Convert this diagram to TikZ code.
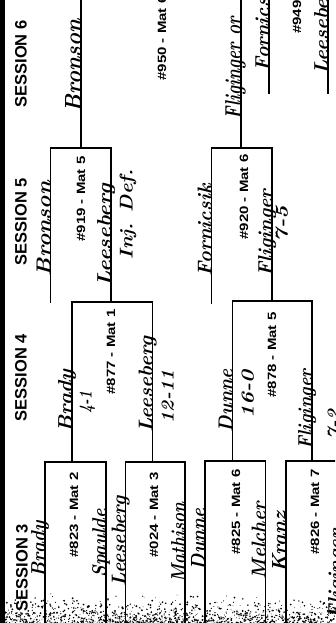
\documentclass[tikz,border=0pt]{standalone}
\usepackage{fontspec}
\usepackage{graphicx}
\newfontfamily\sansb{Liberation Sans}
\newcommand\hw[3][14]{\resizebox{#2pt}{#1pt}{\bfseries\itshape #3}}
\begin{document}
\begin{tikzpicture}[x=1pt,y=-1pt,
  br/.style={line width=1.1pt, line cap=rect},
  sess/.style={rotate=90, font=\sansb\bfseries\fontsize{16.5}{16.5}\selectfont, inner sep=0pt},
  mat/.style={rotate=90, font=\sansb\bfseries\fontsize{12}{12}\selectfont, inner sep=0pt},
  hand/.style={rotate=90, inner sep=0.5pt, anchor=base west},
  score/.style={rotate=90, inner sep=0.5pt, anchor=north west}]
\useasboundingbox (0,0) rectangle (335,623);
\clip (0,0) rectangle (335,623);
\fill[white] (0,0) rectangle (335,623);
% scan border
\fill[black] (0,0) rectangle (4.5,623);
% bottom speckle
\pgfmathsetseed{7}
\foreach \i in {1,...,1100}{
  \pgfmathsetmacro\rx{rnd*335}
  \pgfmathsetmacro\ry{623-30*rnd*rnd}
  \pgfmathsetmacro\rr{0.35+0.7*rnd}
  \fill[black] (\rx,\ry) circle (\rr);
}
% ---------- bracket coordinates ----------
% session 3
\coordinate (a1) at (45,462);   \coordinate (a2) at (106,462);
\coordinate (b1) at (125.7,462);\coordinate (b2) at (185,462);
\coordinate (c1) at (205,461);  \coordinate (c2) at (265.7,461);
\coordinate (d1) at (286,461);  \coordinate (d2) at (346,461);
\coordinate (a1b) at (45,623);  \coordinate (a2b) at (106,623);
\coordinate (b1b) at (125.7,623);\coordinate (b2b) at (185,623);
\coordinate (c1b) at (205,623); \coordinate (c2b) at (265.7,623);
\coordinate (d1b) at (286,623); \coordinate (d2b) at (346,623);
\coordinate (am) at (72,462);   \coordinate (bm) at (152.5,462);
\coordinate (cm) at (232.5,461);\coordinate (dm) at (312,461);
% session 4
\coordinate (e1) at (72,302);   \coordinate (e2) at (152.5,302);
\coordinate (f1) at (232.5,301);\coordinate (f2) at (312,301);
\coordinate (em) at (111,302);  \coordinate (fm) at (272,301);
% session 5
\coordinate (g1) at (50.7,148); \coordinate (g2) at (111,148);
\coordinate (h1) at (211.7,148);\coordinate (h2) at (272,148);
\coordinate (g1b) at (50.7,302);\coordinate (h1b) at (211.7,303);
\coordinate (gm) at (81,148);   \coordinate (hm) at (241,148);
\coordinate (gt) at (81,-5);    \coordinate (ht) at (241,-5);
% consolation #949
\coordinate (k1t) at (269,-5);  \coordinate (k1b) at (269,93);
\coordinate (k2t) at (328,-5);  \coordinate (k2b) at (328,93);
% ---------- bracket lines ----------
\draw[br] (a1b) -- (a1) -- (a2) -- (a2b);
\draw[br] (b1b) -- (b1) -- (b2) -- (b2b);
\draw[br] (c1b) -- (c1) -- (c2) -- (c2b);
\draw[br] (d1b) -- (d1) -- (d2) -- (d2b);
\draw[br] (am) -- (e1);  \draw[br] (bm) -- (e2);
\draw[br] (cm) -- (f1);  \draw[br] (dm) -- (f2);
\draw[br] (e1) -- (e2);  \draw[br] (f1) -- (f2);
\draw[br] (em) -- (g2);  \draw[br] (fm) -- (h2);
\draw[br] (g1b) -- (g1) -- (g2);
\draw[br] (h1b) -- (h1) -- (h2);
\draw[br] (gm) -- (gt);  \draw[br] (hm) -- (ht);
\draw[br] (k1t) -- (k1b);\draw[br] (k2t) -- (k2b);
% ---------- session headings ----------
\node[sess] (s6) at (21,64) {SESSION 6};
\node[sess] (s5) at (21,221.5) {SESSION 5};
\node[sess] (s4) at (21,377.5) {SESSION 4};
\node[sess] (s3) at (22,567.5) {SESSION 3};
% ---------- match labels ----------
\node[mat] (m823) at (74,515) {\scalebox{1.25}[1]{\#823 - Mat 2}};
\node[mat] (m824) at (154,515) {\scalebox{1.25}[1]{\#024 - Mat 3}};
\node[mat] (m825) at (236,512) {\scalebox{1.25}[1]{\#825 - Mat 6}};
\node[mat] (m826) at (315,512) {\scalebox{1.25}[1]{\#826 - Mat 7}};
\node[mat] (m877) at (111,352) {\scalebox{1.25}[1]{\#877 - Mat 1}};
\node[mat] (m878) at (272,355) {\scalebox{1.25}[1]{\#878 - Mat 5}};
\node[mat] (m919) at (81,199) {\scalebox{1.25}[1]{\#919 - Mat 5}};
\node[mat] (m920) at (244,197) {\scalebox{1.25}[1]{\#920 - Mat 6}};
\node[mat] (m950) at (162,38) {\scalebox{1.25}[1]{\#950 - Mat 6}};
\node[mat, anchor=west] (m949) at (297,34) {\scalebox{1.25}[1]{\#949}};
% ---------- handwriting: session 3 ----------
\node[hand] (n1) at (45,578) {\hw{56}{Brady}};
\node[hand] (n2) at (106,578) {\hw{68}{Spaulde}};
\node[hand] (n3) at (125.7,587) {\hw{90}{Leeseberg}};
\node[hand] (n4) at (185,583) {\hw{80}{Mathison}};
\node[hand] (n5) at (205,571) {\hw{62}{Dunne}};
\node[hand] (n6) at (265.7,580) {\hw{77}{Melcher}};
\node[hand] (n7) at (286,573) {\hw{61}{Kranz}};
\node[hand] (n8) at (342,620) {\hw{90}{Fliginger}};
% ---------- handwriting: session 4 ----------
\node[hand] (n9) at (72,433) {\hw{63}{Brady}};
\node[score] (r9) at (79,414) {\hw[12]{22}{4-1}};
\node[hand] (n10) at (152.5,433) {\hw{96}{Leeseberg}};
\node[score] (r10) at (161,424) {\hw[12]{53}{12-11}};
\node[hand] (n11) at (232.5,433) {\hw{63}{Dunne}};
\node[score] (r11) at (241,419) {\hw[12]{48}{16-0}};
\node[hand] (n12) at (312,450) {\hw{80}{Fliginger}};
\node[score] (r12) at (327,440) {\hw[12]{30}{7-2}};
% ---------- handwriting: session 5 ----------
\node[hand] (n13) at (50.7,277) {\hw{95}{Bronson}};
\node[hand] (n14) at (111,287) {\hw{102}{Leeseberg}};
\node[score] (r14) at (119,260) {\hw[13]{90}{Inj. Def.}};
\node[hand] (n15) at (211.7,277) {\hw{92}{Fornicsik}};
\node[hand] (n16) at (272,277) {\hw{87}{Fliginger}};
\node[score] (r16) at (275,243) {\hw[12]{36}{7-5}};
% ---------- handwriting: session 6 ----------
\node[hand] (n17) at (81,113) {\hw[16]{93}{Bronson}};
\node[hand] (n18) at (241,120) {\hw[16]{102}{Fliginger or}};
\node[hand] (n19) at (269,72) {\hw{90}{Fornicsik}};
\node[hand] (n20) at (328,75) {\hw{95}{Leeseberg}};
\end{tikzpicture}
\end{document}
